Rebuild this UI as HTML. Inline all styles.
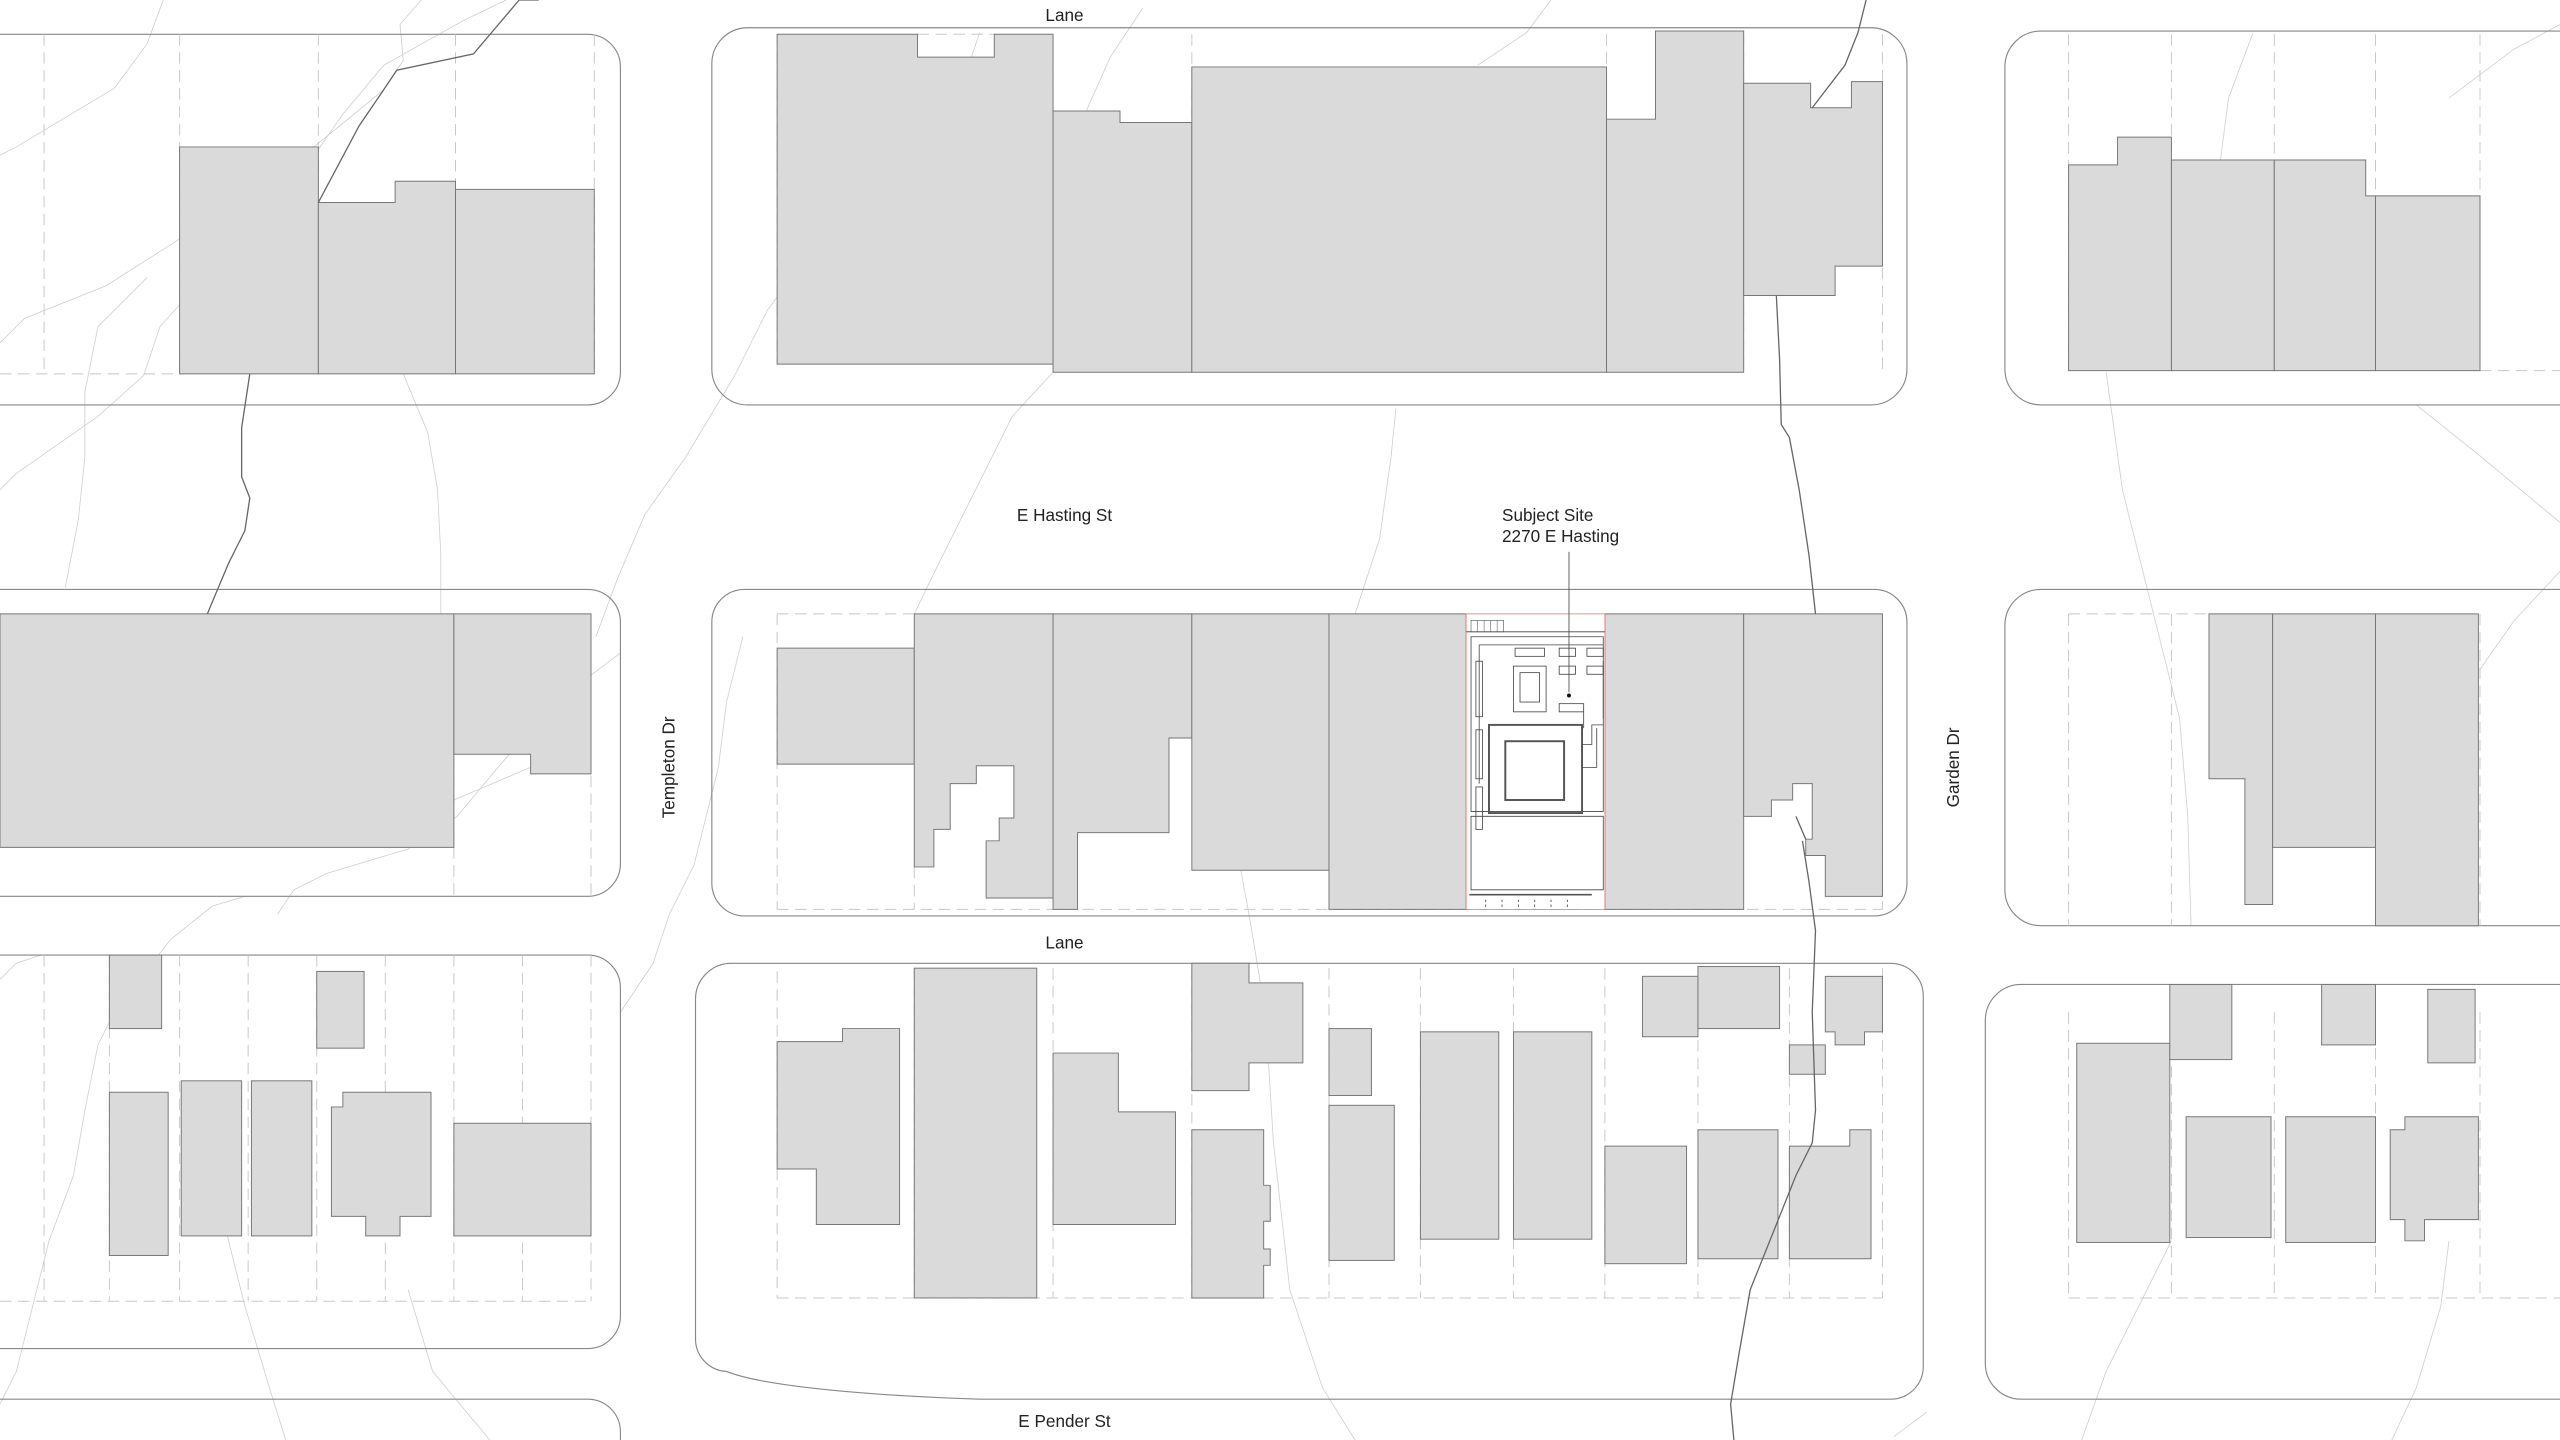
<!DOCTYPE html>
<html><head><meta charset="utf-8"><style>
html,body{margin:0;padding:0;background:#fff;width:2560px;height:1440px;overflow:hidden}
svg{display:block}
text{font-family:"Liberation Sans",sans-serif;font-size:10.5px;fill:#222}
.b{fill:#dadada;stroke:#777;stroke-width:0.6}
.blk{fill:none;stroke:#888;stroke-width:0.7}
.d{fill:none;stroke:#c8c8c8;stroke-width:0.6;stroke-dasharray:7 4}
.t{fill:none;stroke:#cfcfcf;stroke-width:0.5}
.p{fill:none;stroke:#666;stroke-width:0.8}
.s{fill:none;stroke:#444;stroke-width:0.5}
</style></head><body>
<svg width="2560" height="1440" viewBox="0 0 1568 882" preserveAspectRatio="none" xmlns="http://www.w3.org/2000/svg">
<!-- topo lines -->
<g class="t">
<path d="M0,95 L10,90 L70,54 L90,27 L100,0"/>
<path d="M0,210 L15,195 L65,175 L120,140 L180,100 L235,55 L247,37 L245,15 L258,0"/>
<path d="M150,549 L130,555 L105,575 L85,600 L72,616 L60,640 L52,680 L45,720 L30,760 L20,800 L10,840 L0,860"/>
<path d="M0,300 L10,290 L60,255 L88,230 L98,200 L125,170 L175,120 L210,70 L235,40 L283,13 L310,0"/>
<path d="M40,360 L48,318 L52,280 L52,240 L60,200 L90,170"/>
<path d="M247,229 L262,265 L268,300 L270,340 L270,376"/>
<path d="M365,390 L378,355 L395,315 L420,280 L450,230 L470,190 L500,150 L530,110 L560,80 L590,50 L600,20"/>
<path d="M560,376 L575,345 L600,295 L620,255 L645,228"/>
<path d="M830,376 L845,330 L852,280 L855,250"/>
<path d="M905,40 L935,20 L950,0"/>
<path d="M760,533 L765,560 L775,620 L780,700 L790,790 L810,850 L830,882"/>
<path d="M1290,228 L1300,300 L1320,380 L1335,440 L1340,500 L1342,567"/>
<path d="M1480,248 L1520,280 L1568,320"/>
<path d="M1519,410 L1540,380 L1568,350"/>
<path d="M1380,20 L1365,60 L1360,98"/>
<path d="M1500,60 L1540,30 L1568,15"/>
<path d="M1330,760 L1310,800 L1290,840 L1275,882"/>
<path d="M1500,760 L1495,800 L1480,850 L1465,882"/>
<path d="M0,600 L10,590 L25,585"/>
<path d="M278,490 L325,470"/>
<path d="M170,560 L180,545 L200,535 L250,520 L280,500 L305,470 L340,430 L380,400"/>
<path d="M380,620 L400,590 L410,560 L425,530 L440,470 L445,430 L455,390"/>
<path d="M700,5 L680,35 L660,80"/>
<path d="M1180,865 L1160,880"/>
<path d="M130,710 L140,760 L150,800 L165,850 L175,882"/>
<path d="M250,790 L265,840 L300,882"/>
</g>
<!-- blocks -->
<g class="blk">
<path d="M-20,21 H360 A20,20 0 0 1 380,41 V228 A20,20 0 0 1 360,248 H-20"/>
<rect x="436" y="17" width="732" height="231" rx="22"/>
<path d="M1588,19 H1250 A22,22 0 0 0 1228,41 V226 A22,22 0 0 0 1250,248 H1588"/>
<path d="M-20,361 H360 A20,20 0 0 1 380,381 V529 A20,20 0 0 1 360,549 H-20"/>
<rect x="436" y="361" width="732" height="200" rx="20"/>
<path d="M1588,361 H1250 A22,22 0 0 0 1228,383 V545 A22,22 0 0 0 1250,567 H1588"/>
<path d="M-20,585 H360 A20,20 0 0 1 380,605 V806 A20,20 0 0 1 360,826 H-20"/>
<path d="M448,590 H1158 A20,20 0 0 1 1178,610 V837 A20,20 0 0 1 1158,857 H600 C540,855 470,850 445,840 A20,20 0 0 1 426,820 V612 A22,22 0 0 1 448,590 Z"/>
<path d="M1588,603 H1238 A22,22 0 0 0 1216,625 V835 A22,22 0 0 0 1238,857 H1588"/>
<path d="M-20,857 H360 A20,20 0 0 1 380,877 V890"/>
</g>
<!-- lot lines -->
<g class="d">
<path d="M0,229 H110 M27,21 V229 M110,21 V229 M195,21 V229 M279,21 V229 M364,21 V229"/>
<path d="M476,21 V223 M645,21 V228 M730,21 V228 M984,21 V228 M1068,21 V228 M1153,21 V228 M562,21 H609"/>
<path d="M1267,21 V227 M1330,21 V227 M1393,21 V227 M1455,21 V227 M1519,21 V227 M1519,227 H1568"/>
<path d="M278,376 V549 M362,376 V549"/>
<path d="M476,376 V557 M476,376 H560 M560,531 V557 M476,557 H1153 M1153,376 V557"/>
<path d="M1267,376 V567 M1330,376 V567 M1267,376 H1353 M1519,376 V567"/>
<path d="M0,797 H362 M27,585 V797 M67,585 V797 M110,585 V797 M152,585 V797 M194,585 V797 M236,585 V797 M278,585 V797 M320,585 V797 M362,585 V797"/>
<path d="M476,595 V795 M476,795 H1153 M560,593 V795 M645,593 V795 M730,593 V795 M814,593 V795 M870,593 V795 M927,593 V795 M983,593 V795 M1040,593 V795 M1096,593 V795 M1153,593 V795"/>
<path d="M1267,620 V795 M1267,795 H1568 M1330,620 V795 M1393,620 V795 M1455,620 V795 M1519,620 V795"/>
</g>
<!-- buildings -->
<g class="b">
<polygon points="110,90 195,90 195,229 110,229"/>
<polygon points="195,124 242,124 242,111 279,111 279,229 195,229"/>
<polygon points="279,116 364,116 364,229 279,229"/>
<polygon points="476,21 562,21 562,35 609,35 609,21 645,21 645,223 476,223"/>
<polygon points="645,68 686,68 686,75 730,75 730,228 645,228"/>
<polygon points="730,41 984,41 984,228 730,228"/>
<polygon points="984,73 1014,73 1014,19 1068,19 1068,228 984,228"/>
<polygon points="1068,51 1109,51 1109,66 1134,66 1134,50 1153,50 1153,163 1124,163 1124,181 1068,181"/>
<polygon points="1267,101 1297,101 1297,84 1330,84 1330,227 1267,227"/>
<polygon points="1330,98 1393,98 1393,227 1330,227"/>
<polygon points="1393,98 1449,98 1449,120 1455,120 1455,227 1393,227"/>
<polygon points="1455,120 1519,120 1519,227 1455,227"/>
<polygon points="0,376 278,376 278,519 0,519"/>
<polygon points="278,376 362,376 362,474 325,474 325,462 278,462"/>
<polygon points="476,397 560,397 560,468 476,468"/>
<polygon points="560,376 645,376 645,550 604,550 604,515 612,515 612,501 621,501 621,469 598,469 598,480 582,480 582,508 572,508 572,531 560,531"/>
<polygon points="645,376 730,376 730,452 716,452 716,510 660,510 660,557 645,557"/>
<polygon points="730,376 814,376 814,533 730,533"/>
<polygon points="814,376 898,376 898,557 814,557"/>
<polygon points="983,376 1068,376 1068,557 983,557"/>
<polygon points="1068,376 1153,376 1153,549 1118,549 1118,524 1106,524 1106,514 1110,514 1110,480 1098,480 1098,490 1085,490 1085,500 1068,500"/>
<polygon points="1353,376 1392,376 1392,554 1375,554 1375,477 1353,477"/>
<polygon points="1392,376 1455,376 1455,519 1392,519"/>
<polygon points="1455,376 1518,376 1518,567 1455,567"/>
<rect x="67" y="585" width="32" height="45"/>
<rect x="194" y="595" width="29" height="47"/>
<rect x="67" y="669" width="36" height="100"/>
<rect x="111" y="662" width="37" height="95"/>
<rect x="154" y="662" width="37" height="95"/>
<polygon points="210,669 264,669 264,745 245,745 245,757 224,757 224,745 203,745 203,678 210,678"/>
<rect x="278" y="688" width="84" height="69"/>
<polygon points="516,630 551,630 551,750 500,750 500,716 476,716 476,638 516,638"/>
<rect x="560" y="593" width="75" height="202"/>
<polygon points="645,645 685,645 685,681 720,681 720,750 645,750"/>
<polygon points="730,590 765,590 765,602 798,602 798,651 765,651 765,668 730,668"/>
<polygon points="730,692 774,692 774,726 778,726 778,748 774,748 774,765 778,765 778,775 774,775 774,795 730,795"/>
<rect x="814" y="630" width="26" height="41"/>
<rect x="814" y="677" width="40" height="95"/>
<rect x="870" y="632" width="48" height="127"/>
<rect x="927" y="632" width="48" height="127"/>
<rect x="1006" y="598" width="34" height="37"/>
<rect x="1040" y="592" width="50" height="38"/>
<polygon points="1118,598 1153,598 1153,632 1142,632 1142,640 1124,640 1124,632 1118,632"/>
<rect x="1096" y="640" width="22" height="18"/>
<rect x="983" y="702" width="50" height="72"/>
<rect x="1040" y="692" width="49" height="79"/>
<polygon points="1096,702 1133,702 1133,692 1146,692 1146,771 1096,771"/>
<rect x="1272" y="639" width="57" height="122"/>
<rect x="1329" y="603" width="38" height="46"/>
<rect x="1339" y="684" width="52" height="74"/>
<rect x="1400" y="684" width="55" height="77"/>
<rect x="1422" y="603" width="33" height="37"/>
<rect x="1487" y="606" width="29" height="45"/>
<polygon points="1473,684 1518,684 1518,747 1485,747 1485,760 1473,760 1473,747 1464,747 1464,692 1473,692"/>
</g>
<!-- property/service line -->
<g class="p">
<path d="M330,0 L318,0 L290,33 L243,43 L235,55 L220,77 L195,124"/>
<path d="M153,229 L148,262 L148,292 L153,305 L150,325 L140,345 L127,376"/>
<path d="M1143,0 L1138,20 L1130,40 L1110,66"/>
<path d="M1088,181 L1090,220 L1091,260 L1096,268 L1102,300 L1108,340 L1112,376"/>
<path d="M1100,500 L1106,514 M1104,515 L1108,540 L1112,570 L1110,620 L1112,680 L1110,700 L1100,720 L1090,745 L1072,790 L1065,830 L1060,860 L1062,882"/>
</g>
<!-- subject site -->
<rect x="898" y="376" width="85" height="181" fill="#fff" stroke="#e08080" stroke-width="0.5"/>
<g class="s">
<path d="M898,387 H983"/>
<rect x="901" y="380" width="20" height="7" stroke-width="0.35"/>
<path d="M905,380V387M909,380V387M913,380V387M917,380V387" stroke-width="0.3"/>
<path d="M901,390 H982 V497 H901 Z"/>
<path d="M906,395 H982"/>
<path d="M906,395 V480"/>
<rect x="904" y="405" width="4" height="34"/>
<rect x="904" y="447" width="4" height="30"/>
<rect x="904" y="482" width="4" height="26"/>
<rect x="928" y="397" width="18" height="5"/>
<rect x="955" y="397" width="10" height="5"/>
<rect x="972" y="397" width="10" height="5"/>
<rect x="927" y="408" width="20" height="28"/>
<rect x="931" y="412" width="12" height="18"/>
<rect x="955" y="408" width="10" height="5"/>
<rect x="972" y="408" width="10" height="5"/>
<rect x="955" y="431" width="15" height="5"/>
<path d="M970,436 V446 M982,405 V440"/>
<rect x="912" y="444" width="57" height="54" stroke-width="1.2" stroke="#555"/>
<rect x="922" y="454" width="36" height="36" stroke-width="1.2" stroke="#555"/>
<path d="M969,456 H975 V444 H982 M969,470 H978 V446"/>
<path d="M901,500 H982 V545 H901 Z"/>
<path d="M900,548 H975" stroke-width="1" stroke="#555"/>
<path d="M910,551V557M920,551V557M930,551V557M940,551V557M950,551V557M960,551V557" stroke-dasharray="1.5 1.5"/>
</g>
<path d="M961,338 V424" stroke="#444" stroke-width="0.5"/>
<circle cx="961" cy="426" r="1.2" fill="#111"/>
<!-- labels -->
<text x="652" y="13" text-anchor="middle">Lane</text>
<text x="652" y="319" text-anchor="middle">E Hasting St</text>
<text x="652" y="581" text-anchor="middle">Lane</text>
<text x="652" y="874" text-anchor="middle">E Pender St</text>
<text x="920" y="319">Subject Site</text>
<text x="920" y="332">2270 E Hasting</text>
<text transform="translate(413,470) rotate(-90)" text-anchor="middle">Templeton Dr</text>
<text transform="translate(1200,470) rotate(-90)" text-anchor="middle">Garden Dr</text>
</svg>
</body></html>
